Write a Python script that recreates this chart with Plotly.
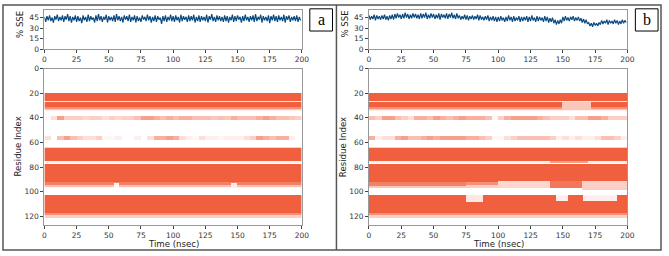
import numpy as np
import plotly.graph_objects as go

W, H = 669, 256

# ---------------- data ----------------
time_ticks = [0, 25, 50, 75, 100, 125, 150, 175, 200]
sse_ticks = [0, 15, 30, 45]
res_ticks = [0, 20, 40, 60, 80, 100, 120]

time_ns = list(range(200))

sse_a = [
    46, 39, 47, 41, 48, 40, 45, 38, 47, 42, 49, 40, 46, 41, 48, 39, 47, 42, 50, 40,
    47, 38, 46, 41, 48, 39, 47, 40, 45, 37, 48, 41, 46, 39, 49, 40, 47, 42, 45, 38,
    48, 40, 50, 41, 47, 39, 46, 42, 49, 38, 47, 41, 46, 40, 48, 39, 50, 41, 47, 40,
    46, 38, 48, 42, 47, 40, 49, 39, 46, 41, 48, 38, 47, 40, 45, 39, 48, 42, 46, 40,
    49, 41, 47, 38, 46, 40, 48, 39, 47, 42, 45, 36, 47, 40, 48, 39, 46, 41, 49, 40,
    47, 39, 48, 41, 46, 38, 49, 40, 47, 42, 46, 39, 48, 40, 47, 41, 49, 38, 46, 40,
    48, 39, 47, 41, 46, 40, 49, 38, 47, 42, 50, 40, 46, 39, 48, 41, 47, 40, 46, 39,
    48, 40, 47, 38, 46, 41, 49, 39, 47, 40, 48, 42, 46, 38, 47, 40, 49, 41, 46, 39,
    47, 41, 48, 39, 50, 40, 46, 42, 49, 38, 47, 41, 46, 40, 48, 37, 47, 41, 49, 40,
    47, 39, 48, 41, 46, 40, 49, 38, 47, 42, 48, 39, 46, 41, 47, 40, 48, 39, 46, 41,
]

sse_b = [
    48, 42, 47, 43, 49, 41, 48, 43, 47, 42, 48, 43, 49, 42, 47, 41, 48, 43, 49, 42,
    50, 44, 51, 45, 49, 43, 50, 44, 52, 45, 50, 43, 49, 44, 51, 45, 50, 44, 49, 43,
    51, 44, 50, 45, 52, 43, 49, 44, 51, 45, 50, 43, 49, 44, 51, 42, 50, 45, 49, 44,
    51, 43, 50, 45, 52, 44, 49, 43, 51, 44, 48, 42, 47, 43, 49, 42, 48, 41, 47, 43,
    48, 42, 47, 43, 49, 41, 48, 42, 46, 41, 47, 42, 48, 40, 46, 41, 47, 40, 46, 39,
    46, 40, 47, 41, 45, 39, 46, 40, 48, 41, 46, 39, 47, 40, 45, 41, 47, 39, 46, 40,
    46, 41, 47, 39, 46, 40, 48, 41, 45, 39, 47, 40, 46, 41, 45, 39, 47, 40, 46, 38,
    44, 39, 45, 37, 42, 35, 41, 36, 42, 37, 46, 40, 47, 41, 45, 40, 46, 42, 47, 40,
    45, 41, 46, 40, 44, 38, 43, 37, 42, 36, 38, 33, 37, 32, 38, 34, 37, 33, 38, 35,
    41, 36, 40, 37, 42, 35, 41, 37, 40, 36, 42, 37, 41, 35, 40, 36, 42, 37, 41, 38,
]

# SSE occupancy bands: (first residue, last residue, t start, t end, fraction)
bands_a = [
    (20, 26, 0, 200, 1.0), (27, 27, 0, 200, 0.15), (28, 31, 0, 200, 1.0),
    (32, 32, 0, 200, 0.7), (33, 33, 0, 200, 0.35), (34, 34, 0, 200, 0.1),
    (64, 64, 0, 200, 0.3), (65, 75, 0, 200, 1.0), (76, 76, 0, 200, 0.1),
    (78, 92, 0, 200, 1.0), (93, 94, 0, 200, 0.8), (95, 96, 0, 200, 0.4),
    (97, 97, 0, 200, 0.1),
    (103, 117, 0, 200, 1.0), (118, 119, 0, 200, 0.7), (120, 121, 0, 200, 0.3),
    (94, 97, 54, 58, 0.05), (94, 97, 145, 150, 0.1),
]
bands_b = [
    (20, 26, 0, 200, 1.0), (27, 27, 0, 200, 0.15), (28, 31, 0, 200, 1.0),
    (32, 32, 0, 200, 0.7), (33, 33, 0, 200, 0.35), (34, 34, 0, 200, 0.1),
    (28, 33, 150, 172, 0.35),
    (64, 64, 0, 200, 0.3), (65, 75, 0, 200, 1.0), (76, 76, 0, 200, 0.1),
    (76, 76, 140, 170, 0.6),
    (78, 92, 0, 200, 1.0),
    (93, 95, 0, 75, 0.8), (96, 97, 0, 75, 0.35),
    (93, 94, 75, 100, 0.7), (95, 97, 75, 100, 0.3),
    (92, 97, 100, 140, 0.25), (92, 97, 140, 165, 0.85), (92, 98, 165, 200, 0.3),
    (103, 117, 0, 200, 1.0), (118, 119, 0, 200, 0.7), (120, 121, 0, 200, 0.3),
    (103, 108, 75, 88, 0.15), (103, 107, 145, 154, 0.1), (103, 107, 166, 192, 0.1),
]

# sparse helices: fraction per 5-ns window
sparse40_a = [0.05, 0.2, 0.6, 0.3, 0.3, 0.3, 0.25, 0.3, 0.3, 0.2,
              0.3, 0.25, 0.3, 0.3, 0.4, 0.6, 0.6, 0.5, 0.4, 0.5,
              0.4, 0.5, 0.5, 0.4, 0.4, 0.4, 0.35, 0.4, 0.35, 0.5,
              0.4, 0.4, 0.4, 0.5, 0.6, 0.5, 0.4, 0.4, 0.35, 0.3]
sparse57_a = [0.2, 0.0, 0.4, 0.6, 0.4, 0.3, 0.2, 0.2, 0.3, 0.05,
              0.05, 0.1, 0.0, 0.0, 0.1, 0.0, 0.2, 0.5, 0.5, 0.6,
              0.5, 0.2, 0.1, 0.05, 0.2, 0.1, 0.1, 0.05, 0.1, 0.1,
              0.1, 0.2, 0.3, 0.6, 0.5, 0.4, 0.5, 0.5, 0.1, 0.0]
sparse40_b = [0.4, 0.3, 0.6, 0.6, 0.4, 0.3, 0.2, 0.5, 0.5, 0.4,
              0.6, 0.5, 0.4, 0.5, 0.6, 0.5, 0.5, 0.5, 0.4, 0.05,
              0.3, 0.5, 0.6, 0.6, 0.6, 0.6, 0.5, 0.4, 0.3, 0.3,
              0.3, 0.2, 0.4, 0.4, 0.6, 0.6, 0.5, 0.3, 0.3, 0.3]
sparse57_b = [0.5, 0.1, 0.2, 0.2, 0.5, 0.6, 0.4, 0.4, 0.5, 0.6,
              0.5, 0.6, 0.6, 0.6, 0.6, 0.5, 0.5, 0.4, 0.3, 0.05,
              0.05, 0.2, 0.3, 0.4, 0.4, 0.4, 0.4, 0.4, 0.3, 0.1,
              0.2, 0.1, 0.2, 0.1, 0.1, 0.2, 0.4, 0.4, 0.3, 0.1]

N_RES = 127
LINE_COLOR = "#0b4a80"
SSE_COLOR = "#f05f3e"


def build_matrix(bands, s40, s57):
    z = np.zeros((N_RES, len(time_ns)))
    for r0, r1, t0, t1, f in bands:
        z[r0:r1 + 1, t0:t1] = f
    for i, f in enumerate(s40):
        z[39:42, i * 5:(i + 1) * 5] = f
    for i, f in enumerate(s57):
        z[55:59, i * 5:(i + 1) * 5] = f
    return z


z_a = build_matrix(bands_a, sparse40_a, sparse57_a)
z_b = build_matrix(bands_b, sparse40_b, sparse57_b)
t_centers = [t + 0.5 for t in time_ns]
residues = list(range(N_RES))

# ---------------- layout geometry (pixels) ----------------
panels = [
    dict(x0=43, x1=304, sse=sse_a, z=z_a, label="a", box=(312, 335)),
    dict(x0=372, x1=634, sse=sse_b, z=z_b, label="b", box=(642, 665)),
]
TOP_Y0, TOP_Y1 = 6, 47
HM_Y0, HM_Y1 = 67, 229


def px(x):
    return x / W


def py(y):
    return 1 - y / H


fig = go.Figure()
tickfont = dict(family="DejaVu Sans", size=7.5, color="#333")
axis_common = dict(showline=True, mirror=True, linecolor="#999", linewidth=1,
                   ticks="outside", ticklen=3, tickcolor="#444", showgrid=False,
                   zeroline=False, tickfont=tickfont)
layout = {}
annotations = []
shapes = []


def note(text, x, y, font, angle=0):
    return dict(text=text, xref="paper", yref="paper", x=px(x), y=py(y),
                xanchor="center", yanchor="middle", textangle=angle,
                showarrow=False, font=font, borderpad=0)


for i, p in enumerate(panels):
    n_top = 2 * i + 1
    n_hm = 2 * i + 2
    xa_t = "x" if n_top == 1 else f"x{n_top}"
    ya_t = "y" if n_top == 1 else f"y{n_top}"
    xa_h = f"x{n_hm}"
    ya_h = f"y{n_hm}"
    fig.add_trace(go.Scatter(x=time_ns, y=p["sse"], mode="lines",
                             line=dict(color=LINE_COLOR, width=1.2),
                             xaxis=xa_t, yaxis=ya_t, showlegend=False))
    fig.add_trace(go.Heatmap(x=t_centers, y=residues, z=p["z"], zmin=0, zmax=1,
                             colorscale=[[0, "white"], [1, SSE_COLOR]],
                             showscale=False, xaxis=xa_h, yaxis=ya_h))
    dom_x = [px(p["x0"]), px(p["x1"])]
    layout["xaxis" if n_top == 1 else f"xaxis{n_top}"] = dict(
        axis_common, domain=dom_x, range=[0, 200], tickvals=time_ticks,
        anchor=ya_t)
    layout["yaxis" if n_top == 1 else f"yaxis{n_top}"] = dict(
        axis_common, domain=[py(TOP_Y1), py(TOP_Y0)], range=[0, 56],
        tickvals=sse_ticks, anchor=xa_t)
    layout[f"xaxis{n_hm}"] = dict(
        axis_common, domain=dom_x, range=[0, 200], tickvals=time_ticks,
        anchor=ya_h)
    layout[f"yaxis{n_hm}"] = dict(
        axis_common, domain=[py(HM_Y1), py(HM_Y0)], range=[127, 0],
        tickvals=res_ticks, anchor=xa_h)

    lab = dict(family="DejaVu Sans", size=8.6, color="#222")
    annotations.append(note("% SSE", p["x0"] - 24, 21, lab, -90))
    annotations.append(note("Residue Index", p["x0"] - 27,
                            (HM_Y0 + HM_Y1) / 2, lab, -90))
    annotations.append(note("Time (nsec)", (p["x0"] + p["x1"]) / 2, 249, lab))
    bx0, bx1 = p["box"]
    shapes.append(dict(type="rect", xref="paper", yref="paper",
                       x0=px(bx0), x1=px(bx1), y0=py(28), y1=py(5),
                       line=dict(color="black", width=1)))
    annotations.append(note(p["label"], (bx0 + bx1) / 2, 16,
                            dict(family="Liberation Serif", size=16,
                                 color="black")))

# outer frame and divider
shapes.append(dict(type="rect", xref="paper", yref="paper",
                   x0=px(1), x1=px(668), y0=py(255), y1=py(1),
                   line=dict(color="#555", width=1.5)))
shapes.append(dict(type="line", xref="paper", yref="paper",
                   x0=px(339), x1=px(339), y0=py(255), y1=py(1),
                   line=dict(color="#555", width=1.5)))

fig.update_layout(width=W, height=H, margin=dict(l=0, r=0, t=0, b=0),
                  paper_bgcolor="white", plot_bgcolor="white",
                  annotations=annotations, shapes=shapes, **layout)
fig.write_html("out.html")
